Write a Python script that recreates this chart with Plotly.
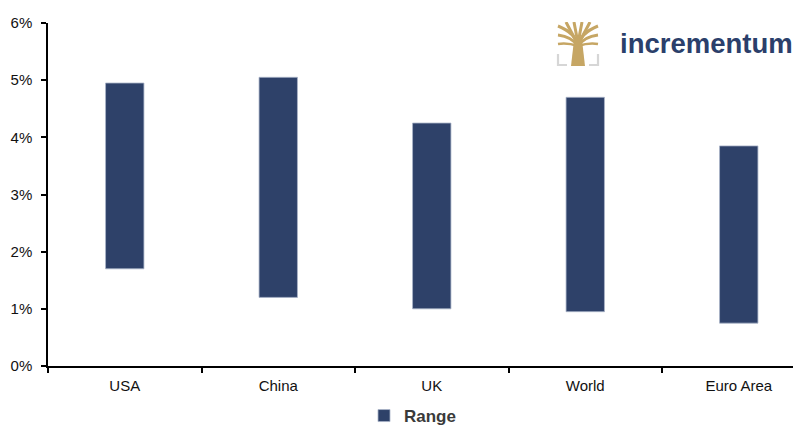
import base64
import plotly.graph_objects as go

categories = ["USA", "China", "UK", "World", "Euro Area"]
low_values = [1.70, 1.20, 1.00, 0.95, 0.75]
high_values = [4.95, 5.05, 4.25, 4.70, 3.85]
y_tick_values = [0, 1, 2, 3, 4, 5, 6]
y_tick_labels = ["0%", "1%", "2%", "3%", "4%", "5%", "6%"]
series_name = "Range"

# the page body has an 8px default margin; size the figure to fill the window
OFF = 8
W, H = 801 - OFF, 428 - OFF
ML, MR, MT = 48 - OFF, 0, 23 - OFF
MB = H - (366 - OFF)
plot_w = W - ML - MR
plot_h = H - MT - MB
band = 153.5
x_max = -0.5 + plot_w / band

fig = go.Figure()
fig.add_trace(go.Bar(
    x=categories,
    y=[h - l for h, l in zip(high_values, low_values)],
    base=low_values,
    name=series_name,
    width=0.25,
    marker=dict(color="#2E4169", line=dict(color="#A9B4C8", width=0.8)),
    showlegend=True,
))

# logo icon as inline SVG
svg = """<svg xmlns='http://www.w3.org/2000/svg' width='44' height='44' viewBox='0 0 44 44'>
<g stroke='#C6A664' stroke-linecap='butt' fill='none'>
<path d='M22 24 C20 14 12 8 2 4' stroke-width='3'/>
<path d='M22 24 C19 16 14 8 10 0' stroke-width='3'/>
<path d='M22 24 C21 14 19 6 18 0' stroke-width='3'/>
<path d='M22 24 C23 14 25 6 26 0' stroke-width='3'/>
<path d='M22 24 C25 16 30 8 34 0' stroke-width='3'/>
<path d='M22 24 C24 14 32 8 42 4' stroke-width='3'/>
<path d='M22 24 C18 18 10 14 2 13' stroke-width='3'/>
<path d='M22 24 C26 18 34 14 42 13' stroke-width='3'/>
<path d='M22 24 C16 22 8 21 2 22' stroke-width='2.5'/>
<path d='M22 24 C28 22 36 21 42 22' stroke-width='2.5'/>
</g>
<polygon points='18,18 26,18 29,44 15,44' fill='#C6A664'/>
<path d='M2 32 L2 43 L11 43' stroke='#D6D6D6' stroke-width='2.2' fill='none'/>
<path d='M42 32 L42 43 L33 43' stroke='#D6D6D6' stroke-width='2.2' fill='none'/>
</svg>"""
src = "data:image/svg+xml;base64," + base64.b64encode(svg.encode()).decode()

def px_x(p):
    # p in page pixels
    return (p - OFF - ML) / plot_w

def px_y(p):
    return (H - MB - (p - OFF)) / plot_h

fig.add_layout_image(dict(
    source=src, xref="paper", yref="paper",
    x=px_x(556), y=px_y(22), sizex=44 / plot_w, sizey=44 / plot_h,
    xanchor="left", yanchor="top", sizing="stretch", layer="above",
))

fig.add_annotation(
    text="incrementum", xref="paper", yref="paper",
    x=px_x(618), y=px_y(44), xanchor="left", yanchor="middle",
    showarrow=False,
    font=dict(family="Liberation Sans, Arial, sans-serif", size=27.5, color="#2B3F6B", weight="bold"),
)

fig.update_layout(
    width=W, height=H,
    margin=dict(l=ML, r=MR, t=MT, b=MB, pad=0, autoexpand=False),
    paper_bgcolor="white", plot_bgcolor="white",
    font=dict(family="Liberation Sans, Arial, sans-serif", size=15, color="#111111"),
    legend=dict(
        orientation="h", x=px_x(364), y=px_y(416), xanchor="left", yanchor="middle",
        font=dict(size=17, color="#3A3A3A", weight="bold"),
        itemwidth=30,
    ),
    xaxis=dict(
        type="category", range=[-0.5, x_max],
        showline=True, linecolor="black", linewidth=1.5,
        ticks="outside", tickson="boundaries", ticklen=5, tickcolor="black", tickwidth=1.5,
        showgrid=False, zeroline=False,
        tickfont=dict(size=15, color="#111111"),
        ticklabelstandoff=5,
    ),
    yaxis=dict(
        range=[0, 6], tickvals=y_tick_values, ticktext=y_tick_labels,
        showline=True, linecolor="black", linewidth=1.5,
        ticks="outside", ticklen=5, tickcolor="black", tickwidth=1.5,
        showgrid=False, zeroline=False,
        tickfont=dict(size=15, color="#111111"),
        ticklabelstandoff=6,
    ),
)

fig.write_html("out.html")
